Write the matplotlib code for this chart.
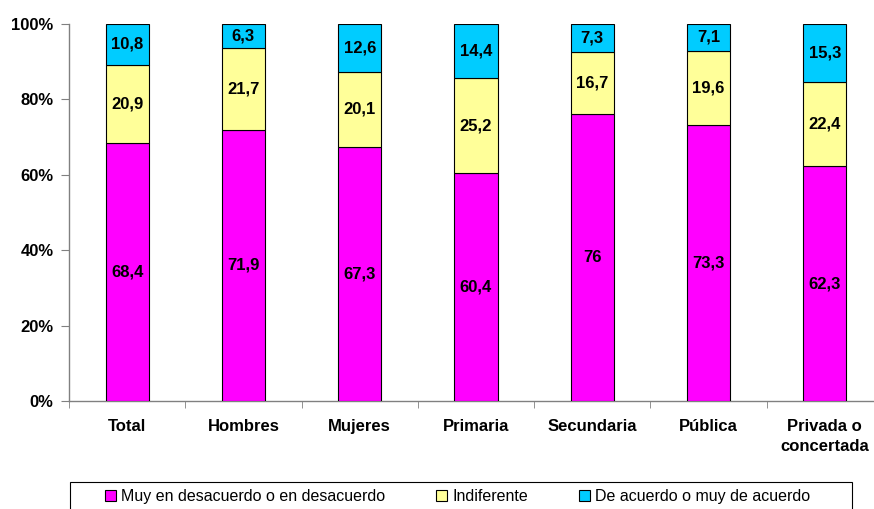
import matplotlib
matplotlib.use("Agg")
import matplotlib.pyplot as plt
import numpy as np
from matplotlib.patches import Patch, Rectangle

categories = ["Total", "Hombres", "Mujeres", "Primaria", "Secundaria", "Pública", "Privada o\nconcertada"]
desacuerdo = [68.4, 71.9, 67.3, 60.4, 76, 73.3, 62.3]
indiferente = [20.9, 21.7, 20.1, 25.2, 16.7, 19.6, 22.4]
acuerdo = [10.8, 6.3, 12.6, 14.4, 7.3, 7.1, 15.3]
series_names = ["Muy en desacuerdo o en desacuerdo", "Indiferente", "De acuerdo o muy de acuerdo"]
colors = ["#FF00FF", "#FFFF99", "#00CCFF"]
yticks = [0, 20, 40, 60, 80, 100]

plt.rcParams['font.family'] = ['Liberation Sans', 'DejaVu Sans']

fig = plt.figure(figsize=(8.74, 5.09), dpi=100)
W, H = 874, 509
left_px, right_px, top_px, bot_px = 69, 883, 24, 401
ax = fig.add_axes([left_px / W, 1 - bot_px / H, (right_px - left_px) / W, (bot_px - top_px) / H])

data = np.array([desacuerdo, indiferente, acuerdo], dtype=float)
totals = data.sum(axis=0)
pct = data / totals * 100
x = np.arange(len(categories))
bottom = np.zeros(len(categories))
for i in range(3):
    ax.bar(x, pct[i], bottom=bottom, width=0.37, color=colors[i], edgecolor="black", linewidth=0.8, zorder=3)
    for j in range(len(categories)):
        val = data[i, j]
        txt = ("%g" % val).replace(".", ",")
        ax.text(x[j], bottom[j] + pct[i, j] / 2, txt, ha="center", va="center",
                fontsize=12, fontweight="bold", color="black", zorder=4)
    bottom += pct[i]

ax.set_xlim(-0.5, len(categories) - 0.5)
ax.set_ylim(0, 100)
ax.set_yticks(yticks)
ax.set_yticklabels(["%d%%" % t for t in yticks], fontsize=12, fontweight="bold")
ax.set_xticks(x)
ax.set_xticklabels(categories, fontsize=12, fontweight="bold", linespacing=1.4)
ax.set_xticks(np.arange(-0.5, len(categories) + 0.5, 1), minor=True)
ax.tick_params(axis="x", which="major", length=0, pad=13)
ax.tick_params(axis="x", which="minor", length=5, direction="out", color="#808080")
ax.tick_params(axis="y", length=6, direction="out", color="#808080", pad=5)
for s in ["top", "right"]:
    ax.spines[s].set_visible(False)
for s in ["left", "bottom"]:
    ax.spines[s].set_color("#808080")
    ax.spines[s].set_linewidth(1)

# legend frame
fig.patches.append(Rectangle((70 / W, -0.05), (852 - 70) / W, 0.05 + 1 - 482 / H,
                             transform=fig.transFigure, facecolor="none", edgecolor="black",
                             linewidth=0.8))
handles = [Patch(facecolor=colors[i], edgecolor="black", linewidth=0.8) for i in range(3)]
leg = fig.legend(handles, series_names, loc="upper left", ncol=3, mode="expand",
                 bbox_to_anchor=(98 / W, 1 - 560 / H, (817 - 98) / W, (560 - 482) / H),
                 fontsize=11.5, frameon=False,
                 handlelength=0.7, handleheight=0.7, handletextpad=0.3, borderaxespad=0,
                 borderpad=0.45)

fig.savefig("out.png", dpi=100)
